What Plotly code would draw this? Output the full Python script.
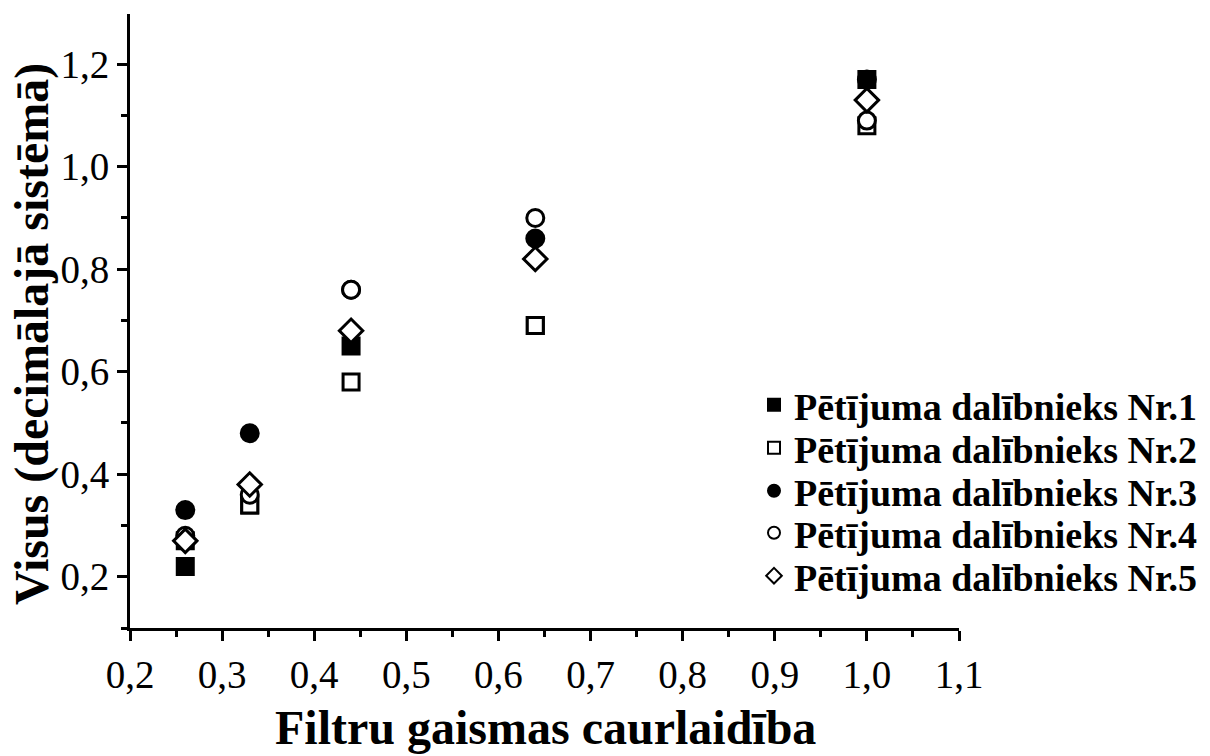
import plotly.graph_objects as go

# Filter light transmittance and measured visual acuity for five participants
transmittance = [0.26, 0.33, 0.44, 0.64, 1.00]
nr1 = [0.22, 0.34, 0.65, 0.69, 1.17]
nr2 = [0.27, 0.34, 0.58, 0.69, 1.08]
nr3 = [0.33, 0.48, 0.76, 0.86, 1.17]
nr4 = [0.28, 0.36, 0.76, 0.90, 1.09]
nr5 = [0.27, 0.38, 0.68, 0.82, 1.13]

series_names = [
    "Pētījuma dalībnieks Nr.1",
    "Pētījuma dalībnieks Nr.2",
    "Pētījuma dalībnieks Nr.3",
    "Pētījuma dalībnieks Nr.4",
    "Pētījuma dalībnieks Nr.5",
]
series_values = [nr1, nr2, nr3, nr4, nr5]
symbols = ["square", "square", "circle", "circle", "diamond"]
fills = ["black", "white", "black", "white", "white"]
sizes = [16, 16, 17, 17, 18]

SERIF = "Liberation Serif"

# canvas geometry: plot area spans 130..959 px horizontally, 14..628 px vertically
W, H = 1210, 756
LEFT, TOP, BOTTOM = 130, 14, 128
RIGHT = W - 959
PAPER_W = W - LEFT - RIGHT


def px_x(p):
    return (p - LEFT) / PAPER_W


def px_y(p):
    return (H - BOTTOM - p) / (H - BOTTOM - TOP)


fig = go.Figure()
legend_ids = ["legend", "legend2", "legend3", "legend4", "legend5"]
for name, vals, sym, fill, sz, lg in zip(series_names, series_values, symbols,
                                         fills, sizes, legend_ids):
    fig.add_trace(go.Scatter(
        x=transmittance, y=vals, mode="markers", name=name, legend=lg,
        marker=dict(symbol=sym, size=sz, color=fill,
                    line=dict(color="black", width=3)),
    ))

# one legend per row so the row spacing can be set freely
legend_rows_px = [405, 448, 491, 533, 576]
legend_style = dict(x=px_x(754), xanchor="left", yanchor="middle",
                    bgcolor="rgba(0,0,0,0)", borderwidth=0,
                    font=dict(family=SERIF, size=38, color="black", weight="bold"),
                    itemsizing="constant")
layout_legends = {}
for lg, yy in zip(legend_ids, legend_rows_px):
    layout_legends[lg] = dict(y=px_y(yy), **legend_style)

line_style = dict(
    showline=True, linecolor="black", linewidth=3,
    ticks="outside", ticklen=10, tickwidth=3, tickcolor="black",
    showgrid=False, zeroline=False, tickformat=".1f",
    tickfont=dict(family=SERIF, size=39, color="black"),
    ticklabelstandoff=0, automargin=False,
)

fig.update_layout(
    width=W, height=H,
    margin=dict(l=LEFT, r=RIGHT, t=TOP, b=BOTTOM, autoexpand=False),
    paper_bgcolor="white", plot_bgcolor="white",
    separators=", ",
    xaxis=dict(range=[0.2, 1.1], dtick=0.1, tick0=0.2,
               minor=dict(ticks="outside", ticklen=6, tickwidth=3,
                          tickcolor="black", dtick=0.05, tick0=0.2,
                          showgrid=False),
               **line_style),
    yaxis=dict(range=[0.1, 1.298], dtick=0.2, tick0=0.2,
               minor=dict(ticks="outside", ticklen=6, tickwidth=3,
                          tickcolor="black", dtick=0.1, tick0=0.2,
                          showgrid=False),
               **line_style),
    showlegend=True,
    annotations=[
        dict(text="<b>Filtru gaismas caurlaidība</b>", xref="paper", yref="paper",
             x=px_x(545), y=px_y(727), xanchor="center", yanchor="middle",
             showarrow=False, font=dict(family=SERIF, size=48, color="black")),
        dict(text="<b>Visus (decimālajā sistēmā)</b>", xref="paper", yref="paper",
             x=px_x(32), y=px_y(334), xanchor="center", yanchor="middle",
             showarrow=False, textangle=-90,
             font=dict(family=SERIF, size=48, color="black")),
    ],
    **layout_legends,
)

fig.write_html("out.html")
